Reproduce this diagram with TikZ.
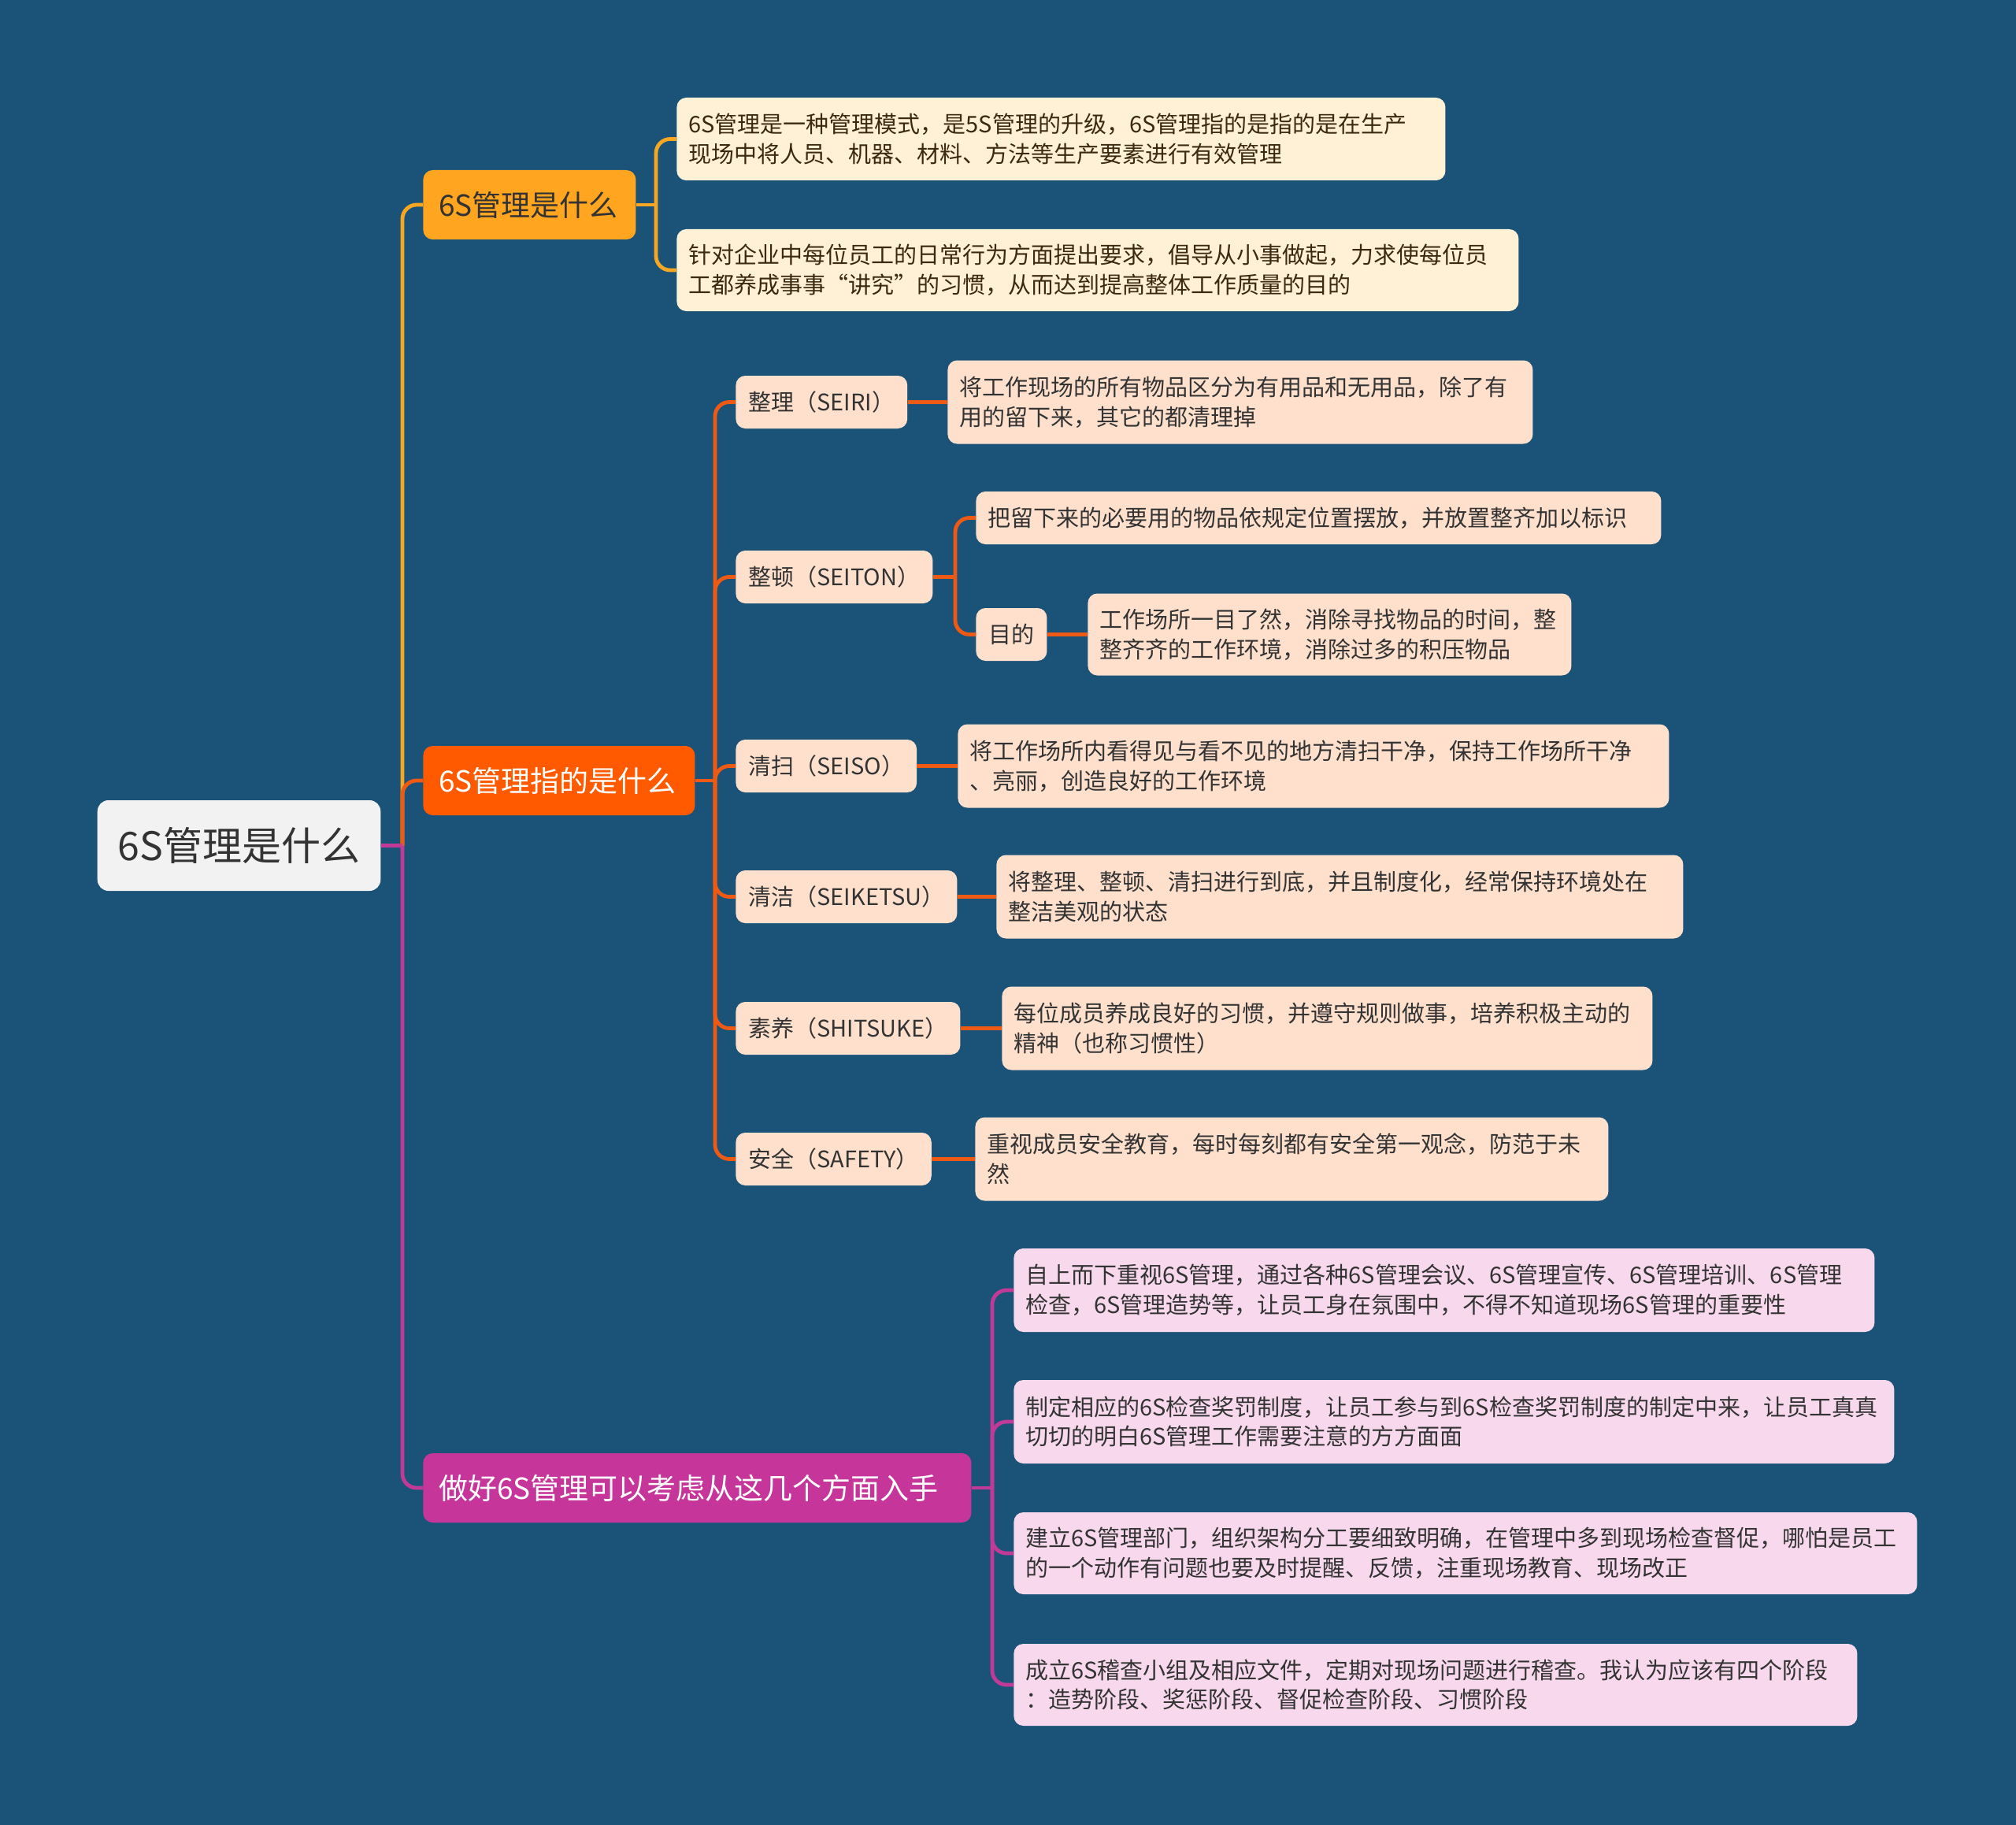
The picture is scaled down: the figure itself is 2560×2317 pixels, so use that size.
\documentclass[tikz,border=0pt]{standalone}
\usepackage{fontspec}
\setmainfont{Noto Sans CJK SC}
\definecolor{bg}{HTML}{1B5378}
\definecolor{rootfill}{HTML}{F2F2F2}
\definecolor{bA}{HTML}{FFA51F}
\definecolor{bB}{HTML}{FF5A00}
\definecolor{bC}{HTML}{C6359A}
\definecolor{lA}{HTML}{FFF1D6}
\definecolor{lB}{HTML}{FFE0CD}
\definecolor{lC}{HTML}{F7D8EC}
\definecolor{lineA}{HTML}{F5A623}
\definecolor{lineB}{HTML}{EE5A14}
\definecolor{lineC}{HTML}{C23A98}
\definecolor{ink}{HTML}{333333}
\definecolor{inkA}{HTML}{3B2A10}
\newcommand\leafbox[7]{%
  \pgfmathsetmacro\lbtw{#4*0.5-15}%
  \pgfmathsetmacro\lbh{#5*0.5}%
  \node[#6, anchor=west, text width=\lbtw pt, minimum height=\lbh pt] (#1) at (#2,#3) {#7};}
\begin{document}
\begin{tikzpicture}[x=0.5pt,y=-0.5pt,
  base/.style={rounded corners=6pt, inner ysep=0pt, font=\fontsize{14.5pt}{18.8pt}\selectfont, text=ink},
  rootbox/.style={fill=rootfill, rounded corners=7pt, inner xsep=13pt, inner ysep=0pt, minimum height=57.5pt, font=\fontsize{25pt}{30pt}\selectfont, text=ink},
  topbox/.style={rounded corners=6pt, inner xsep=10pt, inner ysep=0pt, minimum height=44pt, font=\fontsize{18.5pt}{22pt}\selectfont, anchor=west, align=left},
  leafA/.style={base, fill=lA, text=inkA, inner xsep=7.5pt, align=left},
  leafB/.style={base, fill=lB, inner xsep=7.5pt, align=left},
  leafC/.style={base, fill=lC, inner xsep=7.5pt, align=left},
  midbox/.style={base, fill=lB, inner xsep=8pt, minimum height=33.5pt, anchor=west},
  conA/.style={draw=lineA, line width=2.4pt, rounded corners=9pt},
  conB/.style={draw=lineB, line width=2.4pt, rounded corners=9pt},
  conC/.style={draw=lineC, line width=2.4pt, rounded corners=9pt}
]
\fill[bg] (0,0) rectangle (2560,2317);
\useasboundingbox (0,0) rectangle (2560,2317);

% root and main branches
\node[rootbox] (root) at (303.5,1073.5) {6S管理是什么};
\node[topbox, fill=bA, text=ink, text width=115pt] (b1) at (537,260) {6S管理是什么};
\node[topbox, fill=bB, text=white, text width=152.5pt] (b2) at (537,991) {6S管理指的是什么};
\node[topbox, fill=bC, text=white, text width=328pt] (b3) at (537,1889) {做好6S管理可以考虑从这几个方面入手};

% branch 1 leaves
\leafbox{a1}{859}{176.5}{976}{105}{leafA}{6S管理是一种管理模式，是5S管理的升级，6S管理指的是指的是在生产\\现场中将人员、机器、材料、方法等生产要素进行有效管理}
\leafbox{a2}{859}{343}{1069}{104}{leafA}{针对企业中每位员工的日常行为方面提出要求，倡导从小事做起，力求使每位员\\工都养成事事“讲究”的习惯，从而达到提高整体工作质量的目的}

% branch 2 children
\node[midbox] (m1) at (934,510.5) {整理（SEIRI）};
\node[midbox] (m2) at (934,732.5) {整顿（SEITON）};
\node[midbox] (m3) at (934,972.5) {清扫（SEISO）};
\node[midbox] (m4) at (934,1138.5) {清洁（SEIKETSU）};
\node[midbox] (m5) at (934,1305.5) {素养（SHITSUKE）};
\node[midbox] (m6) at (934,1471.5) {安全（SAFETY）};

\leafbox{l1}{1203}{510.5}{743}{106}{leafB}{将工作现场的所有物品区分为有用品和无用品，除了有\\用的留下来，其它的都清理掉}
\leafbox{m2a}{1239}{657.5}{870}{67}{leafB}{把留下来的必要用的物品依规定位置摆放，并放置整齐加以标识}
\node[midbox] (mud) at (1239,805.5) {目的};
\leafbox{mudl}{1381}{805.5}{614}{104}{leafB}{工作场所一目了然，消除寻找物品的时间，整\\整齐齐的工作环境，消除过多的积压物品}
\leafbox{l3}{1216}{972.5}{903}{106}{leafB}{将工作场所内看得见与看不见的地方清扫干净，保持工作场所干净\\、亮丽，创造良好的工作环境}
\leafbox{l4}{1265}{1138.5}{872}{106}{leafB}{将整理、整顿、清扫进行到底，并且制度化，经常保持环境处在\\整洁美观的状态}
\leafbox{l5}{1272}{1305.5}{826}{106}{leafB}{每位成员养成良好的习惯，并遵守规则做事，培养积极主动的\\精神（也称习惯性）}
\leafbox{l6}{1238}{1471.5}{804}{106}{leafB}{重视成员安全教育，每时每刻都有安全第一观念，防范于未\\然}

% branch 3 leaves
\leafbox{c1}{1287}{1638}{1093}{106}{leafC}{自上而下重视6S管理，通过各种6S管理会议、6S管理宣传、6S管理培训、6S管理\\检查，6S管理造势等，让员工身在氛围中，不得不知道现场6S管理的重要性}
\leafbox{c2}{1287}{1805}{1118}{106}{leafC}{制定相应的6S检查奖罚制度，让员工参与到6S检查奖罚制度的制定中来，让员工真真\\切切的明白6S管理工作需要注意的方方面面}
\leafbox{c3}{1287}{1972}{1147}{104}{leafC}{建立6S管理部门，组织架构分工要细致明确，在管理中多到现场检查督促，哪怕是员工\\的一个动作有问题也要及时提醒、反馈，注重现场教育、现场改正}
\leafbox{c4}{1287}{2139}{1071}{104}{leafC}{成立6S稽查小组及相应文件，定期对现场问题进行稽查。我认为应该有四个阶段\\：造势阶段、奖惩阶段、督促检查阶段、习惯阶段}

% junctions
\coordinate (j0) at (511,1073.5);
\coordinate (jA) at (833,260);
\coordinate (jB) at (908,991);
\coordinate (jM) at (1213,732.5);
\coordinate (jC) at (1260,1889);

% root connectors
\draw[conA] (j0) |- (b1.west);
\draw[conB] (j0) |- (b2.west);
\draw[conC] (j0) |- (b3.west);
\draw[conC] (root.east) -- (j0);

% branch 1
\draw[conA] (b1.east) -- (jA);
\draw[conA] (jA) |- (a1.west);
\draw[conA] (jA) |- (a2.west);

% branch 2
\draw[conB] (b2.east) -- (jB);
\foreach \m in {m1,m2,m3,m4,m5,m6} { \draw[conB] (jB) |- (\m.west); }
\draw[conB] (m1.east) -- (l1.west);
\draw[conB] (m2.east) -- (jM);
\draw[conB] (jM) |- (m2a.west);
\draw[conB] (jM) |- (mud.west);
\draw[conB] (mud.east) -- (mudl.west);
\draw[conB] (m3.east) -- (l3.west);
\draw[conB] (m4.east) -- (l4.west);
\draw[conB] (m5.east) -- (l5.west);
\draw[conB] (m6.east) -- (l6.west);

% branch 3
\draw[conC] (b3.east) -- (jC);
\foreach \c in {c1,c2,c3,c4} { \draw[conC] (jC) |- (\c.west); }
\end{tikzpicture}
\end{document}
